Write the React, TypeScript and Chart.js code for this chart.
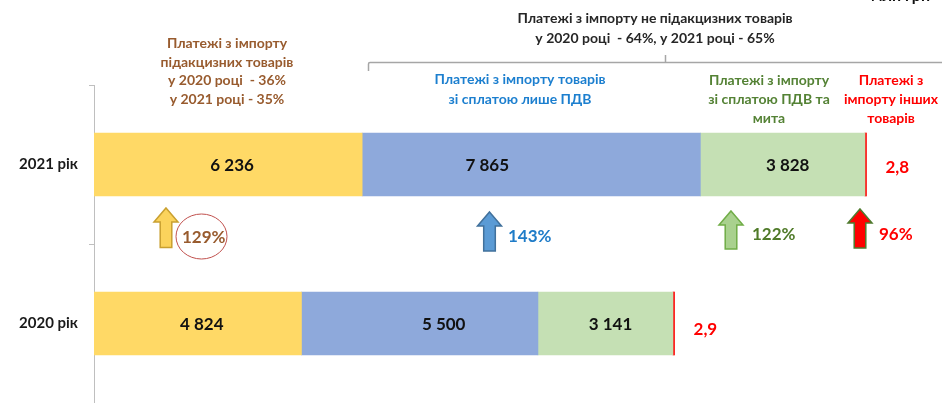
import React, { useEffect, useRef } from 'react';
import Chart from 'chart.js/auto';

const categories = ['2021 рік', '2020 рік'];
const exciseGoods = [6236, 4824];
const vatOnlyGoods = [7865, 5500];
const vatDutyGoods = [3828, 3141];
const otherGoods = [2.8, 2.9];
const growthLabels = ['129%', '143%', '122%', '96%'];
const xMax = 19720;

const FONT = 'Lato, "Open Sans", "DejaVu Sans", sans-serif';

function fmtInt(v: number) {
  return Math.round(v).toString().replace(/\B(?=(\d{3})+(?!\d))/g, ' ');
}
function fmtDec(v: number) {
  return v.toFixed(1).replace('.', ',');
}

const valueLabels = {
  id: 'valueLabels',
  afterDatasetsDraw(chart: any) {
    const ctx = chart.ctx;
    const shifts = [[4, 4], [-44, 24], [5, 5]];
    ctx.save();
    ctx.textBaseline = 'middle';
    chart.data.datasets.forEach((ds: any, di: number) => {
      const meta = chart.getDatasetMeta(di);
      meta.data.forEach((el: any, i: number) => {
        const { x, y, base } = el.getProps(['x', 'y', 'base'], true);
        const v = ds.data[i];
        ctx.font = `bold 17px ${FONT}`;
        if (di < 3) {
          ctx.fillStyle = '#111111';
          ctx.textAlign = 'center';
          ctx.fillText(fmtInt(v), (x + base) / 2 + shifts[di][i], y + 1);
        } else {
          ctx.fillStyle = '#FF0000';
          ctx.textAlign = 'left';
          ctx.fillText(fmtDec(v), x + 19, y + (i === 0 ? 3 : 6));
        }
      });
    });
    ctx.restore();
  },
};

function drawArrow(ctx: CanvasRenderingContext2D, cx: number, top: number, bottom: number, fill: string, stroke: string) {
  const hw = 12;
  const sw = 5.8;
  const hh = 14;
  ctx.beginPath();
  ctx.moveTo(cx, top);
  ctx.lineTo(cx + hw, top + hh);
  ctx.lineTo(cx + sw, top + hh);
  ctx.lineTo(cx + sw, bottom);
  ctx.lineTo(cx - sw, bottom);
  ctx.lineTo(cx - sw, top + hh);
  ctx.lineTo(cx - hw, top + hh);
  ctx.closePath();
  ctx.fillStyle = fill;
  ctx.fill();
  ctx.lineWidth = 1.5;
  ctx.strokeStyle = stroke;
  ctx.stroke();
}

function textBlock(ctx: CanvasRenderingContext2D, lines: string[], cx: number, ys: number[], color: string, size = 14) {
  ctx.font = `bold ${size}px ${FONT}`;
  ctx.fillStyle = color;
  ctx.textAlign = 'center';
  ctx.textBaseline = 'middle';
  lines.forEach((l, i) => ctx.fillText(l, cx, ys[i]));
}

const annotations = {
  id: 'annotations',
  afterDraw(chart: any) {
    const ctx: CanvasRenderingContext2D = chart.ctx;
    ctx.save();
    // partly cut unit text at top right
    ctx.font = `bold 16px ${FONT}`;
    ctx.fillStyle = '#111';
    ctx.textAlign = 'right';
    ctx.textBaseline = 'alphabetic';
    ctx.fillText('млн грн', 930, 0.5);

    textBlock(ctx, ['Платежі з імпорту', 'підакцизних товарів', 'у 2020 році  - 36%', 'у 2021 році - 35%'], 227, [43, 62, 80, 99], '#985B2E');
    textBlock(ctx, ['Платежі з імпорту не підакцизних товарів', 'у 2020 році  - 64%, у 2021 році - 65%'], 655, [18, 38], '#262626');
    textBlock(ctx, ['Платежі з імпорту товарів', 'зі сплатою лише ПДВ'], 520, [79, 99], '#1C7FCF');
    textBlock(ctx, ['Платежі з імпорту', 'зі сплатою ПДВ та', 'мита'], 769, [80, 99, 118], '#548235');
    textBlock(ctx, ['Платежі з', 'імпорту інших', 'товарів'], 891, [80, 99, 118], '#FF0000');

    // brace
    ctx.strokeStyle = '#A6A6A6';
    ctx.lineWidth = 1.5;
    ctx.beginPath();
    ctx.moveTo(368.5, 71);
    ctx.lineTo(368.5, 64);
    ctx.quadraticCurveTo(368.5, 62.5, 370, 62.5);
    ctx.lineTo(942, 62.5);
    ctx.moveTo(665.5, 55);
    ctx.lineTo(665.5, 62.5);
    ctx.stroke();

    // arrows
    drawArrow(ctx, 166, 208, 247.5, '#FBD35C', '#C9A030');
    drawArrow(ctx, 489.5, 212, 251, '#5B9BD5', '#41719C');
    drawArrow(ctx, 731, 211, 249, '#A9D18E', '#70AD47');
    drawArrow(ctx, 860, 209, 248, '#FF0000', '#4E7A2E');

    // growth labels
    ctx.font = `bold 17px ${FONT}`;
    ctx.textAlign = 'left';
    ctx.textBaseline = 'middle';
    const gp = [
      [182, 238, '#985B2E'],
      [508, 237, '#1F7CC8'],
      [752, 235, '#4F7A28'],
      [879, 235, '#FF0000'],
    ];
    growthLabels.forEach((t, i) => {
      ctx.fillStyle = gp[i][2] as string;
      ctx.fillText(t, gp[i][0] as number, gp[i][1] as number);
    });

    // circle around 129%
    ctx.strokeStyle = '#C0504D';
    ctx.lineWidth = 1;
    ctx.beginPath();
    ctx.ellipse(201.5, 236.5, 25.5, 22.5, 0, 0, Math.PI * 2);
    ctx.stroke();
    ctx.restore();
  },
};

export default function App() {
  const ref = useRef<HTMLCanvasElement>(null);
  useEffect(() => {
    if (!ref.current) return;
    const common = { barThickness: 63, borderWidth: 0 };
    const chart = new Chart(ref.current, {
      type: 'bar',
      data: {
        labels: categories,
        datasets: [
          { label: 'Підакцизні', data: exciseGoods, backgroundColor: '#FFD966', ...common },
          { label: 'Лише ПДВ', data: vatOnlyGoods, backgroundColor: '#8EA9DB', ...common },
          { label: 'ПДВ та мито', data: vatDutyGoods, backgroundColor: '#C5E0B4', ...common },
          { label: 'Інші', data: otherGoods, backgroundColor: '#FF0000', minBarLength: 1.5, ...common },
        ],
      },
      options: {
        responsive: false,
        animation: false,
        devicePixelRatio: 1,
        indexAxis: 'y',
        layout: { padding: { top: 85, right: 0, bottom: 0, left: 0 } },
        plugins: { legend: { display: false }, tooltip: { enabled: false } },
        scales: {
          x: { stacked: true, display: false, min: 0, max: xMax },
          y: {
            stacked: true,
            afterFit: (s: any) => {
              s.width = 94;
              s.paddingTop = 0;
              s.paddingBottom = 0;
            },
            grid: { drawOnChartArea: false, tickLength: 5, color: '#BFBFBF' },
            border: { color: '#BFBFBF' },
            ticks: { padding: 11, color: '#1a1a1a', font: { family: FONT, size: 15, weight: 'bold' } },
          },
        },
      },
      plugins: [valueLabels, annotations],
    } as any);
    return () => chart.destroy();
  }, []);
  return (
    <div style={{ position: 'fixed', left: 0, top: 0, width: 942, height: 403, background: '#fff' }}>
      <canvas ref={ref} width={942} height={403} style={{ display: 'block' }} />
    </div>
  );
}
